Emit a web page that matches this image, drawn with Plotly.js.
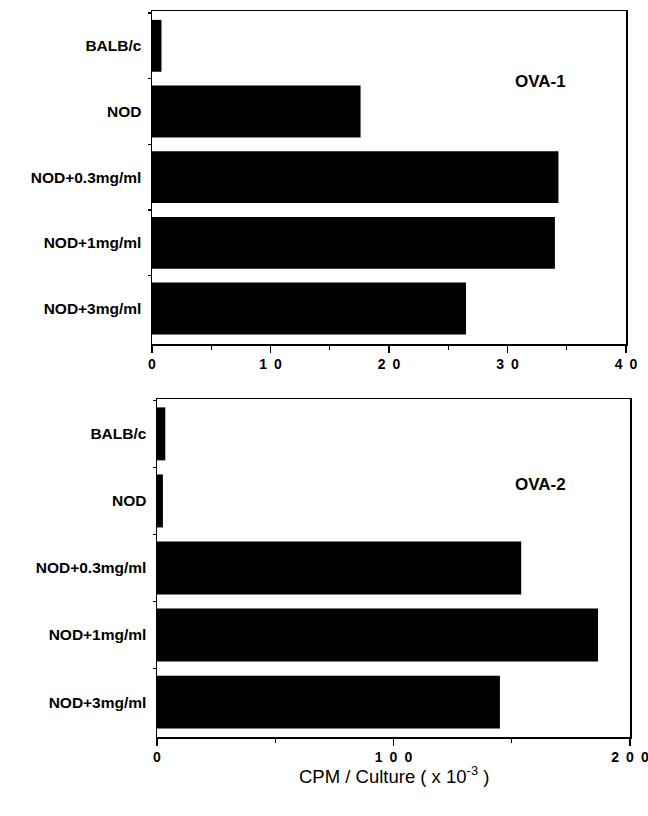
<!DOCTYPE html>
<html>
<head>
<meta charset="utf-8">
<script src="https://cdn.plot.ly/plotly-3.0.1.min.js"></script>
<style>html,body{margin:0;padding:0;background:#fff;}#chart{width:648px;height:816px;}</style>
</head>
<body>
<div id="chart"></div>
<script>
const categories = ["BALB/c", "NOD", "NOD+0.3mg/ml", "NOD+1mg/ml", "NOD+3mg/ml"];
const ova1Values = [0.8, 17.6, 34.3, 34.0, 26.5];
const ova2Values = [3.5, 2.5, 154, 186.5, 145];
const topTickVals = [0, 10, 20, 30, 40];
const topTickText = ["0", "1\u20020", "2\u20020", "3\u20020", "4\u20020"];
const bottomTickVals = [0, 100, 200];
const bottomTickText = ["0", "1\u20020\u20020", "2\u20020\u20020"];
const panelLabels = ["OVA-1", "OVA-2"];
const xTitle = "CPM / Culture ( x 10<sup>-3</sup> )";

const fontFam = "Liberation Sans, Arial, sans-serif";

const traces = [
  {type: "bar", orientation: "h", x: ova1Values, y: categories, xaxis: "x", yaxis: "y",
   marker: {color: "#000"}, width: 0.79, hoverinfo: "none"},
  {type: "bar", orientation: "h", x: ova2Values, y: categories, xaxis: "x2", yaxis: "y2",
   marker: {color: "#000"}, width: 0.79, hoverinfo: "none"}
];

const commonX = {
  showline: true, linecolor: "#000", linewidth: 1.5, mirror: true,
  showgrid: false, zeroline: false, ticks: "outside", ticklen: 7, tickwidth: 1.5,
  tickcolor: "#000", tickfont: {family: fontFam, size: 14, color: "#000", weight: "bold"},
  ticklabeloverflow: "allow", fixedrange: true
};
const commonY = {
  showline: true, linecolor: "#000", linewidth: 1.5, mirror: true,
  showgrid: false, zeroline: false, ticks: "outside", ticklen: 3, tickwidth: 1.5,
  tickcolor: "#000", tickson: "boundaries", type: "category",
  tickfont: {family: fontFam, size: 15.5, color: "#000", weight: "bold"},
  ticklabelstandoff: 6, fixedrange: true
};

const layout = {
  width: 648, height: 816,
  margin: {l: 0, r: 0, t: 0, b: 0},
  paper_bgcolor: "#fff", plot_bgcolor: "#fff",
  showlegend: false,
  bargap: 0.2,
  xaxis: Object.assign({}, commonX, {
    domain: [152/648, 626/648], anchor: "y", range: [0, 40],
    tickvals: topTickVals, ticktext: topTickText,
    minor: {tickvals: [5, 15, 25, 35], ticks: "outside", ticklen: 4, tickwidth: 1.2, tickcolor: "#000"}
  }),
  yaxis: Object.assign({}, commonY, {
    domain: [1 - 344/816, 1 - 11/816], anchor: "x", range: [4.54, -0.53]
  }),
  xaxis2: Object.assign({}, commonX, {
    domain: [157/648, 630/648], anchor: "y2", range: [0, 200],
    tickvals: bottomTickVals, ticktext: bottomTickText,
    minor: {tickvals: [50, 150], ticks: "outside", ticklen: 4, tickwidth: 1.2, tickcolor: "#000"}
  }),
  yaxis2: Object.assign({}, commonY, {
    domain: [1 - 737/816, 1 - 399/816], anchor: "x2", range: [4.52, -0.52]
  }),
  annotations: [
    {text: panelLabels[0], xref: "paper", yref: "paper", x: 540/648, y: 1 - 82/816,
     showarrow: false, xanchor: "center", yanchor: "middle",
     font: {family: fontFam, size: 17, color: "#000", weight: "bold"}},
    {text: panelLabels[1], xref: "paper", yref: "paper", x: 540/648, y: 1 - 484/816,
     showarrow: false, xanchor: "center", yanchor: "middle",
     font: {family: fontFam, size: 17, color: "#000", weight: "bold"}},
    {text: xTitle, xref: "paper", yref: "paper", x: 394/648, y: 1 - 775/816,
     showarrow: false, xanchor: "center", yanchor: "middle",
     font: {family: fontFam, size: 18.5, color: "#000"}}
  ]
};

Plotly.newPlot("chart", traces, layout, {staticPlot: true, displayModeBar: false});
</script>
</body>
</html>
